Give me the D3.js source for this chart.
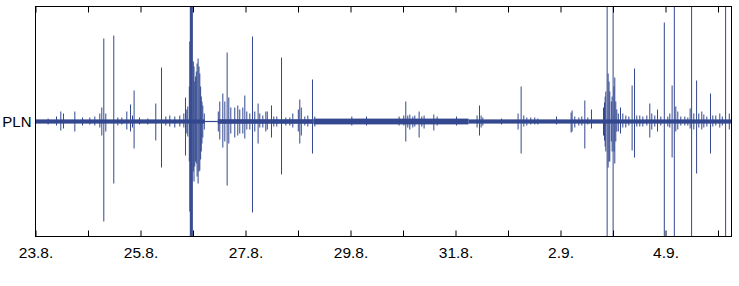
<!DOCTYPE html>
<html>
<head>
<meta charset="utf-8">
<script src="https://cdn.jsdelivr.net/npm/d3@7"></script>
<style>
body{margin:0;background:#fff;}
svg{display:block;}
text{font-family:"Liberation Sans",Arial,Helvetica,sans-serif;}
</style>
</head>
<body>
<script>
// station
let station="PLN";

// time in decimal day of August (32 = 1.9.)
let tStart=23.0, tEnd=36.257;

// background noise level per segment
let noiseStart=[23.0, 26.225, 26.472, 28.30, 31.25];
let noiseEnd  =[26.225, 26.472, 28.30, 31.25, 36.257];
let noiseAmp  =[2.1, 0.6, 2.3, 2.9, 2.1];

// peaks: time, upward and downward amplitude (200 = off scale)
let peakTime=[23.240,23.400,23.482,23.533,23.749,23.895,24.034,24.130,24.225,24.263,24.301,24.339,24.491,24.568,24.644,24.739,24.810,24.848,24.878,24.981,25.139,
25.291,25.400,25.482,25.558,25.653,25.749,25.825,25.857,25.882,25.901,25.930,25.939,25.949,25.958,25.968,25.977,25.987,26.006,26.019,26.034,26.050,26.063,26.078,26.097,26.114,26.130,26.145,26.158,26.171,26.187,26.215,
26.482,26.510,26.568,26.606,26.650,26.682,26.720,26.796,26.853,26.891,26.949,26.987,27.025,27.082,27.133,27.177,27.240,27.272,27.330,27.387,27.415,27.495,27.539,27.596,27.686,27.768,27.844,27.901,28.006,28.034,28.063,28.130,28.187,28.276,28.320,
29.025,29.305,29.926,30.015,30.053,30.091,30.130,30.187,30.225,30.307,30.358,30.402,30.587,30.650,31.019,31.221,31.411,31.457,31.488,31.520,
31.876,32.192,32.250,32.301,32.358,32.434,32.510,32.568,32.924,33.202,33.221,33.272,33.349,33.406,33.463,33.520,33.590,
33.819,33.838,33.850,33.863,33.888,33.907,33.924,33.939,33.968,33.983,34.002,34.019,34.034,34.053,34.072,34.101,34.143,34.187,34.244,34.301,34.364,34.410,34.453,34.510,34.568,34.644,34.701,34.739,34.796,34.848,34.910,34.977,
35.044,35.082,35.126,35.168,35.196,35.234,35.291,35.368,35.425,35.469,35.497,35.539,35.592,35.634,35.691,35.730,35.787,35.857,35.901,35.958,36.034,36.082,36.145,36.215];
let peakUp=[3,5,10,8,10,4,4,5,8,14,83,8,86,4,4,10,17,6,31,4,3,
18,54,5,6,5,6,8,24,12,15,35,80,200,200,200,200,200,60,55,40,45,50,58,63,55,48,35,25,20,16,8,
10,20,28,20,69,24,14,14,16,12,14,26,10,8,85,10,18,8,6,10,10,16,5,5,64,4,4,8,12,22,14,5,6,42,5,
5,5,5,6,20,6,7,5,6,10,5,6,7,5,5,2,6,16,6,4,
3,8,35,6,4,4,4,3,5,9,11,5,4,5,21,4,12,
14,19,25,30,200,48,40,30,20,25,200,35,44,20,12,8,14,8,6,5,36,53,6,6,5,6,18,8,6,12,5,99,
5,8,36,200,15,10,5,5,4,13,200,8,41,8,10,7,5,28,6,6,8,5,200,8];
let peakDown=[3,4,9,7,10,4,3,4,6,14,100,10,62,4,3,8,10,6,27,3,3,
19,46,4,5,6,5,6,34,12,15,40,90,200,200,200,200,200,50,60,45,40,42,55,62,50,49,38,30,22,16,8,
10,18,26,20,64,22,12,16,14,12,12,17,8,8,91,10,22,6,6,10,8,16,5,5,53,4,4,6,10,22,14,4,5,32,5,
4,4,4,4,20,6,8,6,5,16,5,7,9,4,4,2,6,14,6,4,
3,8,32,5,4,3,3,3,3,11,10,6,4,4,27,3,7,
14,19,25,30,200,46,40,40,20,30,200,30,42,20,10,10,12,6,6,4,29,36,5,5,5,4,16,8,5,10,4,200,
5,6,36,200,10,8,4,4,4,7,200,8,52,6,8,6,5,32,5,4,6,4,200,8];

// axis ticks
let tickDays=[23,24,25,26,27,28,29,30,31,32,33,34,35,36];
let tickLabels=["23.8.","","25.8.","","27.8.","","29.8.","","31.8.","","2.9.","","4.9.",""];

let W=739,H=286;
let mL=35.5,mR=731.5,mT=6.5,mB=236.5;
let col="#33488f";

let t0=Date.UTC(2013,6,31);
function toDate(d){return new Date(t0+d*864e5);}

let svg=d3.select("body").append("svg").attr("width",W).attr("height",H);

let x=d3.scaleUtc().domain([toDate(tStart),toDate(tEnd)]).range([mL,mR]);
let y=d3.scaleLinear().domain([-115,115]).range([mB,mT]);

svg.append("clipPath").attr("id","clip").append("rect")
  .attr("x",mL).attr("y",mT).attr("width",mR-mL).attr("height",mB-mT);

let g=svg.append("g").attr("clip-path","url(#clip)");

// noise band
g.selectAll("rect.noise").data(noiseAmp).enter().append("rect").attr("class","noise")
  .attr("x",(d,i)=>x(toDate(noiseStart[i])))
  .attr("width",(d,i)=>x(toDate(noiseEnd[i]))-x(toDate(noiseStart[i])))
  .attr("y",d=>y(d)).attr("height",d=>y(-d)-y(d))
  .attr("fill",col);

// peaks
g.selectAll("line.pk").data(peakTime).enter().append("line").attr("class","pk")
  .attr("x1",d=>x(toDate(d))).attr("x2",d=>x(toDate(d)))
  .attr("y1",(d,i)=>y(peakUp[i])).attr("y2",(d,i)=>y(-peakDown[i]))
  .attr("stroke",col).attr("stroke-width",1);

// axes
let xAxis=d3.axisBottom(x).tickValues(tickDays.map(toDate)).tickSizeInner(-6).tickSizeOuter(0).tickPadding(10)
  .tickFormat((d,i)=>tickLabels[i]);
let ax=svg.append("g").attr("transform","translate(0,"+mB+")").call(xAxis);
ax.select(".domain").remove();
ax.selectAll("text").style("font-size","15.5px").attr("fill","#000");
let xTop=d3.axisTop(x).tickValues(tickDays.map(toDate)).tickSizeInner(-6).tickSizeOuter(0).tickFormat("");
let at=svg.append("g").attr("transform","translate(0,"+mT+")").call(xTop);
at.select(".domain").remove();

svg.append("rect").attr("x",mL).attr("y",mT).attr("width",mR-mL).attr("height",mB-mT)
  .attr("fill","none").attr("stroke","#000").attr("stroke-width",1);

svg.append("text").attr("x",mL-4).attr("y",y(0)).attr("dy","0.36em").attr("text-anchor","end")
  .style("font-size","15px").text(station);
</script>
</body>
</html>
